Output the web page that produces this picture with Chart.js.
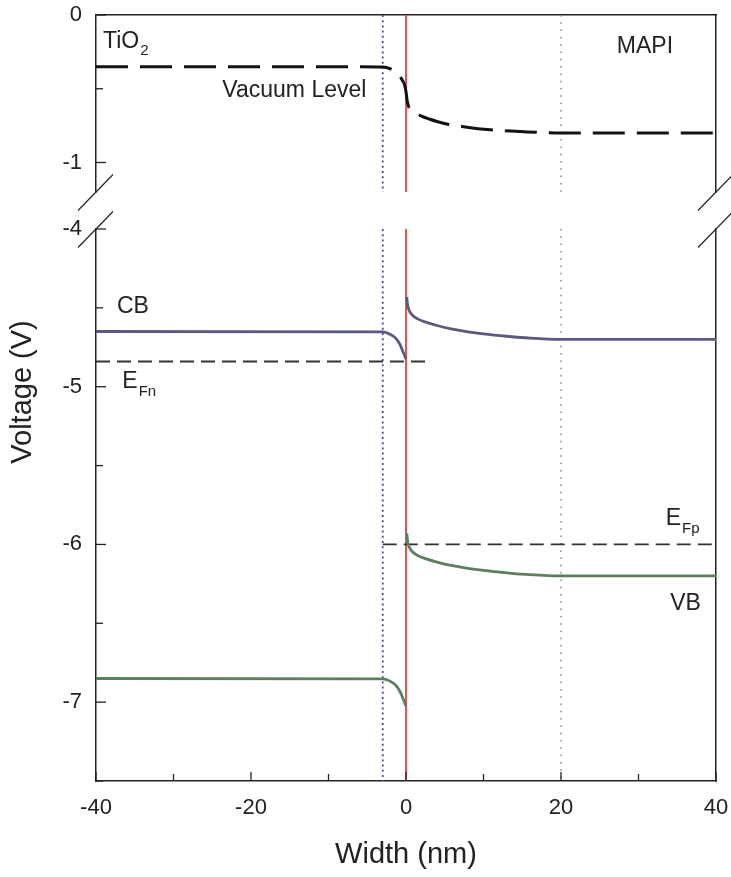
<!DOCTYPE html>
<html>
<head>
<meta charset="utf-8">
<script src="https://cdn.jsdelivr.net/npm/chart.js@4"></script>
<style>
  html, body { margin: 0; padding: 0; background: #ffffff; }
  #wrap { position: relative; width: 731px; height: 877px; overflow: hidden; }
  #bot { position: absolute; left: 0; top: 200px; width: 731px; height: 677px; }
  #top { position: absolute; left: 0; top: 0; width: 731px; height: 215px; }
</style>
</head>
<body>
<div id="wrap">
  <canvas id="bot" width="731" height="677"></canvas>
  <canvas id="top" width="731" height="215"></canvas>
</div>
<script>
// ---------------- data ----------------
const xRange = [-40, 40];
const topYRange = [-1.2, 0];
const bottomYRange = [-7.5, -4];
const xTickLabels = [-40, -20, 0, 20, 40];
const topYTickLabels = [0, -1];
const bottomYTickLabels = [-4, -5, -6, -7];

const interfaceX = 0;   // TiO2 / MAPI interface (red line)
const tio2EdgeX = -3;   // depletion edge in TiO2 (purple dotted)
const mapiEdgeX = 20;   // depletion edge in MAPI (green dotted)

// Vacuum level
const vacX = [-40, -3, -2, -1.4, -0.9, -0.5, -0.2, 0, 0.15, 0.3, 0.6, 1.2, 2, 3, 4, 5.5, 7.4, 10.5, 14.7, 20, 40];
const vacY = [-0.35, -0.352, -0.365, -0.385, -0.41, -0.44, -0.47, -0.52, -0.58, -0.615, -0.64, -0.662, -0.685, -0.705, -0.722, -0.742, -0.757, -0.777, -0.79, -0.80, -0.80];

// TiO2 side bands
const cbTiO2X = [-40, -3, -2.4, -1.7, -1.2, -0.8, -0.45, -0.2, 0];
const cbTiO2Y = [-4.65, -4.652, -4.66, -4.678, -4.70, -4.73, -4.77, -4.80, -4.825];
const vbTiO2X = [-40, -3, -2.4, -1.7, -1.2, -0.8, -0.45, -0.2, 0];
const vbTiO2Y = [-6.85, -6.852, -6.86, -6.878, -6.90, -6.93, -6.97, -7.00, -7.025];

// MAPI side bands
const cbMapiX = [0.1, 0.2, 0.4, 0.8, 1.5, 2.5, 4, 6, 8, 10, 13, 16, 20, 40];
const cbMapiY = [-4.43, -4.48, -4.515, -4.545, -4.57, -4.59, -4.612, -4.635, -4.652, -4.665, -4.68, -4.692, -4.70, -4.70];
const vbMapiX = [0.1, 0.2, 0.4, 0.8, 1.5, 2.5, 4, 6, 8, 10, 13, 16, 20, 40];
const vbMapiY = [-5.93, -5.98, -6.015, -6.045, -6.07, -6.09, -6.112, -6.135, -6.152, -6.165, -6.18, -6.192, -6.20, -6.20];

// Quasi Fermi levels
const efnX = [-40, 2.9];
const efnY = [-4.84, -4.84];
const efpX = [-3, 40];
const efpY = [-6.0, -6.0];

// ---------------- helpers ----------------
const FONT = "'Liberation Sans', Arial, Helvetica, sans-serif";
const INK = '#222222';
Chart.defaults.font.family = FONT;
Chart.defaults.color = INK;

const pts = (xs, ys) => xs.map((x, i) => ({ x: x, y: ys[i] }));
const vline = (x, yr) => [{ x: x, y: yr[1] }, { x: x, y: yr[0] }];
const isIn = (arr, v) => arr.some(a => Math.abs(a - v) < 1e-9);
const fmt = v => (Math.abs(v) < 1e-9 ? '0' : String(Math.round(v * 100) / 100));

const curve = (data, color, width, dash) => ({
  data: data, borderColor: color, borderWidth: width, borderDash: dash || [],
  pointRadius: 0, fill: false, cubicInterpolationMode: 'monotone', borderCapStyle: 'butt'
});
const straight = (data, color, width, dash) => ({
  data: data, borderColor: color, borderWidth: width, borderDash: dash || [],
  pointRadius: 0, fill: false, tension: 0, borderCapStyle: 'butt'
});

const CB_COLOR = '#5a5a80';
const VB_COLOR = '#5b7f5f';
const RED = '#e8403c';
const PURPLE_DOT = '#4d4d9e';
const GREEN_DOT = '#5b9a78';

// invisible tick marks used only to offset labels from the axis line
const hiddenTickGrid = (len) => ({
  display: true, drawOnChartArea: false, drawTicks: true, tickLength: len,
  tickColor: 'rgba(0,0,0,0)', color: 'rgba(0,0,0,0)'
});

// ---------------- plugins ----------------
const inwardTicks = {
  id: 'inwardTicks',
  afterDraw(chart, args, opts) {
    const ctx = chart.ctx, a = chart.chartArea;
    ctx.save();
    ctx.strokeStyle = INK;
    ctx.lineWidth = 1.3;
    (opts.axes || []).forEach(ax => {
      const s = chart.scales[ax.id];
      s.ticks.forEach(t => {
        const r = t.value / ax.majorStep;
        const major = Math.abs(r - Math.round(r)) < 1e-6;
        const len = major ? ax.major : ax.minor;
        const p = s.getPixelForValue(t.value);
        ctx.beginPath();
        if (s.isHorizontal()) { ctx.moveTo(p, a.bottom); ctx.lineTo(p, a.bottom - len); }
        else { ctx.moveTo(a.left, p); ctx.lineTo(a.left + len, p); }
        ctx.stroke();
      });
    });
    ctx.restore();
  }
};

const breakMarks = {
  id: 'breakMarks',
  afterDraw(chart, args, opts) {
    const a = chart.chartArea, ctx = chart.ctx;
    const y = opts.edge === 'bottom' ? a.bottom : a.top;
    ctx.save();
    ctx.strokeStyle = INK;
    ctx.lineWidth = 1.2;
    [a.left, a.right].forEach(x => {
      ctx.beginPath();
      ctx.moveTo(x - 18, y + 18.5);
      ctx.lineTo(x + 17, y - 17.5);
      ctx.stroke();
    });
    ctx.restore();
  }
};

const textLabels = {
  id: 'textLabels',
  afterDatasetsDraw(chart, args, opts) {
    const ctx = chart.ctx, xs = chart.scales.x, ys = chart.scales.y;
    ctx.save();
    ctx.fillStyle = INK;
    ctx.textAlign = 'left';
    ctx.textBaseline = 'alphabetic';
    (opts.items || []).forEach(l => {
      const px = xs.getPixelForValue(l.x), py = ys.getPixelForValue(l.y);
      ctx.font = l.size + 'px ' + FONT;
      ctx.fillText(l.text, px, py);
      if (l.sub) {
        const w = ctx.measureText(l.text).width;
        ctx.font = l.subSize + 'px ' + FONT;
        ctx.fillText(l.sub, px + w + 1, py + l.subDrop);
      }
    });
    ctx.restore();
  }
};

const sideTitle = {
  id: 'sideTitle',
  afterDraw(chart, args, opts) {
    if (!opts.text) return;
    const ctx = chart.ctx;
    ctx.save();
    ctx.translate(opts.x, opts.y);
    ctx.rotate(-Math.PI / 2);
    ctx.fillStyle = INK;
    ctx.font = opts.size + 'px ' + FONT;
    ctx.textAlign = 'center';
    ctx.textBaseline = 'middle';
    ctx.fillText(opts.text, 0, 0);
    ctx.restore();
  }
};

const borderOpts = { display: true, color: INK, width: 1.5 };
const TICK_FONT = 22;
const NOTE_FONT = 23;
const BAND_W = 2.8;

// ---------------- top chart (vacuum level) ----------------
new Chart(document.getElementById('top'), {
  type: 'line',
  data: {
    datasets: [
      curve(pts(vacX, vacY), '#111111', 3, [32, 12]),
      straight(vline(interfaceX, topYRange), RED, 1.8),
      straight(vline(tio2EdgeX, topYRange), PURPLE_DOT, 1.8, [2, 3.2]),
      straight(vline(mapiEdgeX, topYRange), GREEN_DOT, 1.5, [1.5, 5.8])
    ]
  },
  options: {
    responsive: false, animation: false, devicePixelRatio: 1, events: [],
    layout: { padding: { left: 0, right: 15, top: 15, bottom: 23 } },
    plugins: {
      legend: { display: false }, tooltip: { enabled: false },
      inwardTicks: { axes: [{ id: 'y', majorStep: 1, major: 10, minor: 7 }] },
      breakMarks: { edge: 'bottom' },
      textLabels: { items: [
        { text: 'TiO', sub: '2', x: -39.1, y: -0.224, size: NOTE_FONT, subSize: 15, subDrop: 7 },
        { text: 'MAPI', x: 27.2, y: -0.258, size: NOTE_FONT },
        { text: 'Vacuum Level', x: -23.7, y: -0.556, size: NOTE_FONT }
      ] },
      sideTitle: {}
    },
    scales: {
      x: {
        type: 'linear', position: 'top', min: xRange[0], max: xRange[1],
        grid: { display: false, drawTicks: false }, ticks: { display: false },
        border: borderOpts,
        afterFit(s) { s.height = 0; }
      },
      y: {
        type: 'linear', position: 'left', min: topYRange[0], max: topYRange[1],
        grid: hiddenTickGrid(14),
        border: borderOpts,
        ticks: {
          stepSize: 0.5, includeBounds: false, autoSkip: false, padding: 0,
          font: { size: TICK_FONT }, color: INK,
          callback: v => (isIn(topYTickLabels, v) ? fmt(v) : '')
        },
        afterFit(s) { s.width = 96; }
      },
      y2: {
        type: 'linear', position: 'right', display: true,
        grid: { display: false, drawTicks: false }, ticks: { display: false },
        border: borderOpts,
        afterFit(s) { s.width = 0; }
      }
    }
  },
  plugins: [inwardTicks, breakMarks, textLabels, sideTitle]
});

// ---------------- bottom chart (bands) ----------------
new Chart(document.getElementById('bot'), {
  type: 'line',
  data: {
    datasets: [
      curve(pts(cbTiO2X, cbTiO2Y), CB_COLOR, BAND_W),
      curve(pts(cbMapiX, cbMapiY), CB_COLOR, BAND_W),
      curve(pts(vbTiO2X, vbTiO2Y), VB_COLOR, BAND_W),
      curve(pts(vbMapiX, vbMapiY), VB_COLOR, BAND_W),
      straight(pts(efnX, efnY), '#333333', 1.8, [14, 7]),
      straight(pts(efpX, efpY), '#333333', 1.8, [14, 7]),
      straight(vline(interfaceX, bottomYRange), RED, 1.8),
      straight(vline(tio2EdgeX, bottomYRange), PURPLE_DOT, 1.8, [2, 3.2]),
      straight(vline(mapiEdgeX, bottomYRange), GREEN_DOT, 1.5, [1.5, 5.8])
    ]
  },
  options: {
    responsive: false, animation: false, devicePixelRatio: 1, events: [],
    layout: { padding: { left: 0, right: 15, top: 29, bottom: 0 } },
    plugins: {
      legend: { display: false }, tooltip: { enabled: false },
      inwardTicks: { axes: [
        { id: 'y', majorStep: 1, major: 10, minor: 7 },
        { id: 'x', majorStep: 20, major: 9, minor: 7 }
      ] },
      breakMarks: { edge: 'top' },
      textLabels: { items: [
        { text: 'CB', x: -37.3, y: -4.533, size: NOTE_FONT },
        { text: 'E', sub: 'Fn', x: -36.6, y: -5.008, size: NOTE_FONT, subSize: 15, subDrop: 8 },
        { text: 'E', sub: 'Fp', x: 33.5, y: -5.877, size: NOTE_FONT, subSize: 15, subDrop: 8 },
        { text: 'VB', x: 34.1, y: -6.416, size: NOTE_FONT }
      ] },
      sideTitle: { text: 'Voltage (V)', x: 23, y: 192, size: 29 }
    },
    scales: {
      x: {
        type: 'linear', position: 'bottom', min: xRange[0], max: xRange[1],
        grid: hiddenTickGrid(14),
        border: borderOpts,
        ticks: {
          stepSize: 10, autoSkip: false, maxRotation: 0, padding: 0,
          font: { size: TICK_FONT }, color: INK,
          callback: v => (isIn(xTickLabels, v) ? fmt(v) : '')
        },
        title: { display: true, text: 'Width (nm)', font: { size: 29 }, color: INK, padding: { top: 0, bottom: 5 } },
        afterFit(s) { s.height = 96; }
      },
      y: {
        type: 'linear', position: 'left', min: bottomYRange[0], max: bottomYRange[1],
        grid: hiddenTickGrid(14),
        border: borderOpts,
        ticks: {
          stepSize: 0.5, includeBounds: false, autoSkip: false, padding: 0,
          font: { size: TICK_FONT }, color: INK,
          callback: v => (isIn(bottomYTickLabels, v) ? fmt(v) : '')
        },
        afterFit(s) { s.width = 96; }
      },
      y2: {
        type: 'linear', position: 'right', display: true,
        grid: { display: false, drawTicks: false }, ticks: { display: false },
        border: borderOpts,
        afterFit(s) { s.width = 0; }
      }
    }
  },
  plugins: [inwardTicks, breakMarks, textLabels, sideTitle]
});
</script>
</body>
</html>
